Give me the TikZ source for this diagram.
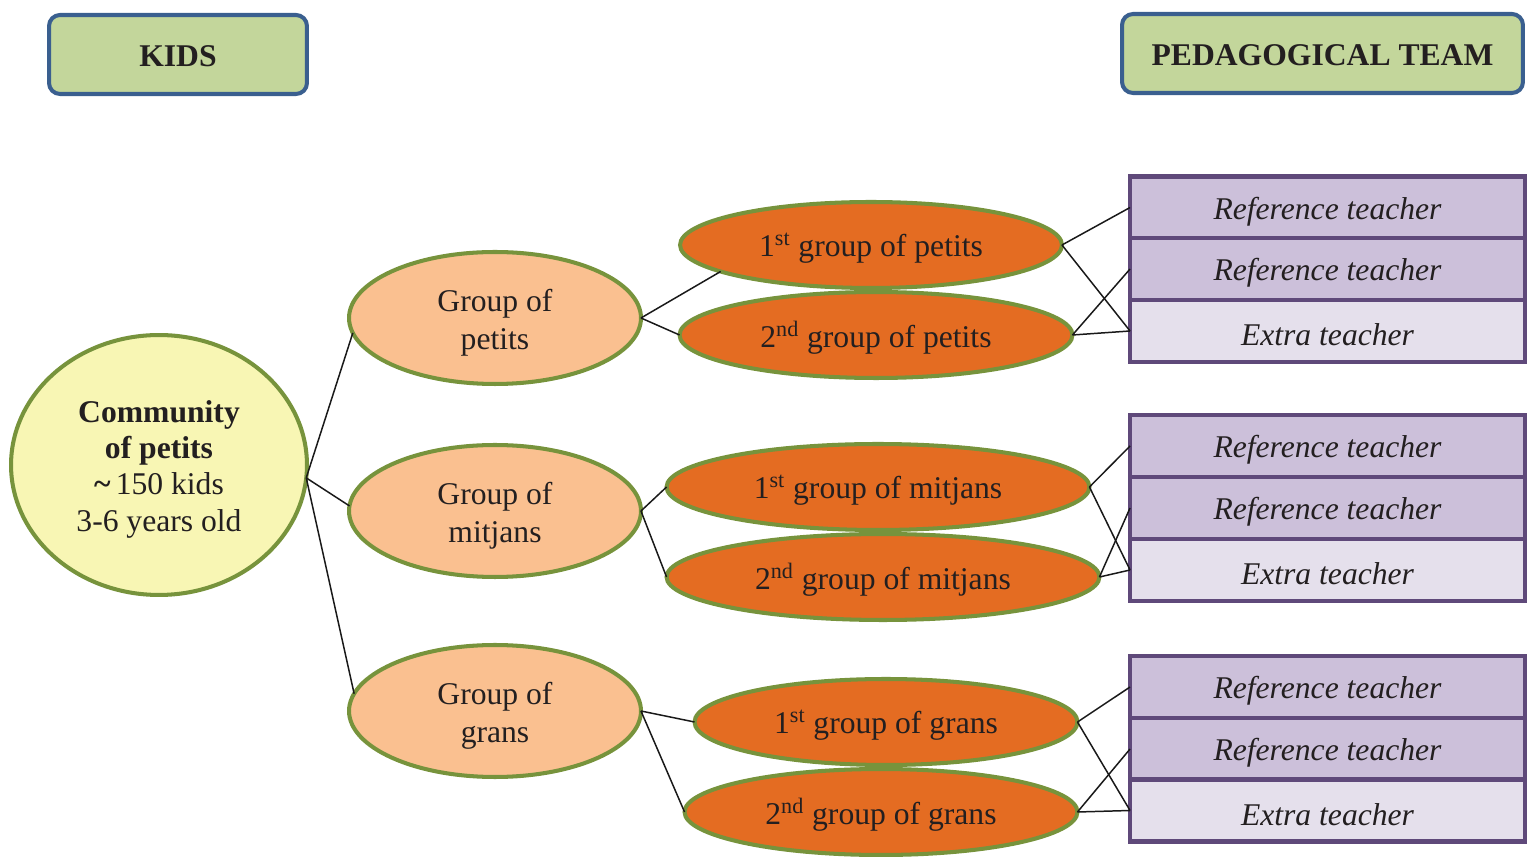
\documentclass[tikz,border=0pt]{standalone}
\usepackage{fontspec}
\setmainfont{Liberation Serif}
\usetikzlibrary{shapes.geometric}

\definecolor{txt}{HTML}{231F20}
\definecolor{headfill}{HTML}{C3D69B}
\definecolor{headline}{HTML}{3A5F8F}
\definecolor{ovalline}{HTML}{77933C}
\definecolor{commfill}{HTML}{F8F6B4}
\definecolor{grpfill}{HTML}{FAC090}
\definecolor{subfill}{HTML}{E46C22}
\definecolor{teamline}{HTML}{5F497A}
\definecolor{reffill}{HTML}{CCC0DA}
\definecolor{extrafill}{HTML}{E5E0EC}

\tikzset{
  base/.style={inner sep=0pt, outer sep=0pt},
  % shapes
  header/.style={base, draw=headline, fill=headfill, line width=2.3pt,
    rounded corners=0.22cm, minimum height=1.58cm},
  community/.style={base, ellipse, draw=ovalline, fill=commfill, line width=2.3pt,
    minimum width=5.92cm, minimum height=5.2cm},
  grp/.style={base, ellipse, draw=ovalline, fill=grpfill, line width=2.3pt,
    minimum width=5.84cm, minimum height=2.64cm},
  sub/.style={base, ellipse, draw=ovalline, fill=subfill, line width=2.3pt,
    minimum height=1.72cm},
  row/.style={base, rectangle, draw=teamline, line width=2.3pt,
    minimum width=7.9cm, minimum height=1.24cm},
  reft/.style={row, fill=reffill},
  extrat/.style={row, fill=extrafill},
  % texts placed on the shapes
  tx/.style={base, text=txt, align=center, font=\fontsize{18}{21}\selectfont},
  headtx/.style={tx, yshift=-1.1pt, font=\fontsize{18}{21}\selectfont\bfseries},
  commtx/.style={tx, yshift=-2.3pt, font=\fontsize{18}{20.7}\selectfont},
  grptx/.style={tx, yshift=-2.8pt, font=\fontsize{18}{21.5}\selectfont},
  subtx/.style={tx, yshift=-1.7pt},
  rowtx/.style={tx, yshift=-2.3pt, font=\fontsize{18}{21}\selectfont\itshape},
  link/.style={draw=black!90, line width=0.85pt},
}

\begin{document}
\begin{tikzpicture}[x=0.02cm, y=-0.02cm]
  \useasboundingbox (0,0) rectangle (1535,857);

  % column headers
  \node[header, minimum width=5.16cm] (kids) at (178,54.5) {};
  \node[headtx] (kidst) at (kids) {KIDS};
  \node[header, minimum width=8.02cm] (team) at (1322.5,53.5) {};
  \node[headtx] (teamt) at (team) {PEDAGOGICAL TEAM};

  % root of the kids tree
  \node[community] (comm) at (159,465) {};
  \node[commtx] (commt) at (comm)
    {\textbf{Community}\\\textbf{of petits}\\{\bfseries\textasciitilde}\,150 kids\\3-6 years old};

  % age groups
  \node[grp] (gp) at (495,318) {};
  \node[grptx] (gpt) at (gp) {Group of\\petits};
  \node[grp] (gm) at (495,511) {};
  \node[grptx] (gmt) at (gm) {Group of\\mitjans};
  \node[grp] (gg) at (495,711) {};
  \node[grptx] (ggt) at (gg) {Group of\\grans};

  % class groups
  \node[sub, minimum width=7.64cm] (p1) at (871,245) {};
  \node[subtx] (p1t) at (p1) {1\textsuperscript{st} group of petits};
  \node[sub, minimum width=7.86cm] (p2) at (876,335) {};
  \node[subtx] (p2t) at (p2) {2\textsuperscript{nd} group of petits};
  \node[sub, minimum width=8.46cm] (m1) at (878,487) {};
  \node[subtx] (m1t) at (m1) {1\textsuperscript{st} group of mitjans};
  \node[sub, minimum width=8.66cm] (m2) at (883,577) {};
  \node[subtx] (m2t) at (m2) {2\textsuperscript{nd} group of mitjans};
  \node[sub, minimum width=7.66cm] (g1) at (886,722) {};
  \node[subtx] (g1t) at (g1) {1\textsuperscript{st} group of grans};
  \node[sub, minimum width=7.86cm] (g2) at (881,812) {};
  \node[subtx] (g2t) at (g2) {2\textsuperscript{nd} group of grans};

  % teachers for the petits
  \node[reft]   (tp1) at (1327.5,207.5) {};
  \node[rowtx]  (tp1t) at (tp1) {Reference teacher};
  \node[reft]   (tp2) at (1327.5,269) {};
  \node[rowtx]  (tp2t) at (tp2) {Reference teacher};
  \node[extrat] (tp3) at (1327.5,331) {};
  \node[rowtx]  (tp3t) at (tp3) {Extra teacher};
  % teachers for the mitjans
  \node[reft]   (tm1) at (1327.5,446) {};
  \node[rowtx]  (tm1t) at (tm1) {Reference teacher};
  \node[reft]   (tm2) at (1327.5,508) {};
  \node[rowtx]  (tm2t) at (tm2) {Reference teacher};
  \node[extrat] (tm3) at (1327.5,570) {};
  \node[rowtx]  (tm3t) at (tm3) {Extra teacher};
  % teachers for the grans
  \node[reft]   (tg1) at (1327.5,687) {};
  \node[rowtx]  (tg1t) at (tg1) {Reference teacher};
  \node[reft]   (tg2) at (1327.5,749) {};
  \node[rowtx]  (tg2t) at (tg2) {Reference teacher};
  \node[extrat] (tg3) at (1327.5,810.5) {};
  \node[rowtx]  (tg3t) at (tg3) {Extra teacher};

  % community to age groups
  \draw[link] (comm.-5) -- (gp.186);
  \draw[link] (comm.-5) -- (gm.178);
  \draw[link] (comm.-5) -- (gg.173);

  % age groups to class groups
  \draw[link] (gp.east) -- (p1.190);
  \draw[link] (gp.east) -- (p2.west);
  \draw[link] (gm.east) -- (m1.west);
  \draw[link] (gm.east) -- (m2.west);
  \draw[link] (gg.east) -- (g1.west);
  \draw[link] (gg.east) -- (g2.west);

  % class groups to teachers
  \draw[link] (p1.east) -- (tp1.west);
  \draw[link] (p1.east) -- (tp3.west);
  \draw[link] (p2.east) -- (tp2.west);
  \draw[link] (p2.east) -- (tp3.west);
  \draw[link] (m1.east) -- (tm1.west);
  \draw[link] (m1.east) -- (tm3.west);
  \draw[link] (m2.east) -- (tm2.west);
  \draw[link] (m2.east) -- (tm3.west);
  \draw[link] (g1.east) -- (tg1.west);
  \draw[link] (g1.east) -- (tg3.west);
  \draw[link] (g2.east) -- (tg2.west);
  \draw[link] (g2.east) -- (tg3.west);
\end{tikzpicture}
\end{document}
